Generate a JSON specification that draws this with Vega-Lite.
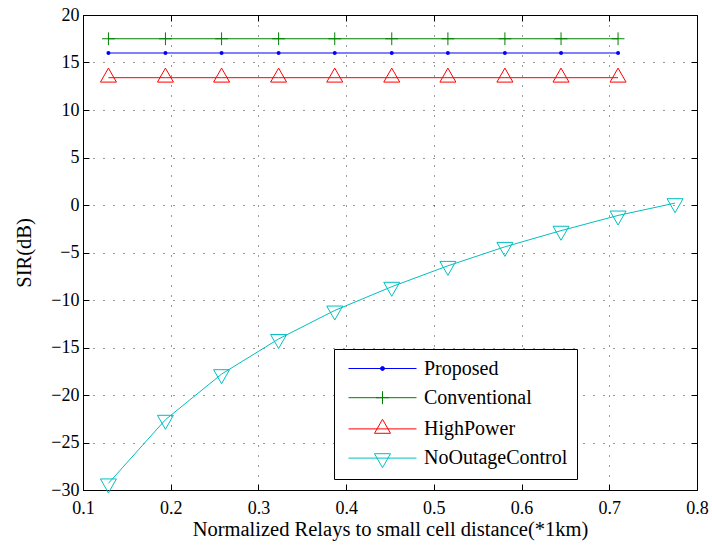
{
  "$schema": "https://vega.github.io/schema/vega-lite/v6.json",
  "width": 614,
  "height": 475,
  "autosize": "none",
  "padding": {"left": 83, "top": 15, "right": 15, "bottom": 55},
  "background": "white",
  "config": {
    "font": "Liberation Serif",
    "view": {"stroke": "black", "strokeWidth": 1},
    "axis": {
      "labelFont": "Liberation Serif",
      "titleFont": "Liberation Serif",
      "labelFontSize": 18,
      "titleFontSize": 20.5,
      "titleFontWeight": "normal",
      "labelColor": "black",
      "titleColor": "black",
      "domain": false,
      "tickColor": "black",
      "tickSize": -6,
      "tickWidth": 1,
      "gridColor": "black",
      "gridOpacity": 0.8,
      "gridDash": [1, 9],
      "gridWidth": 1
    },
    "legend": {"labelFont": "Liberation Serif"}
  },
  "data": {
    "values": [
      {"x": 0.129, "y": 16.0, "series": "Proposed"},
      {"x": 0.194, "y": 16.0, "series": "Proposed"},
      {"x": 0.258, "y": 16.0, "series": "Proposed"},
      {"x": 0.323, "y": 16.0, "series": "Proposed"},
      {"x": 0.387, "y": 16.0, "series": "Proposed"},
      {"x": 0.452, "y": 16.0, "series": "Proposed"},
      {"x": 0.516, "y": 16.0, "series": "Proposed"},
      {"x": 0.581, "y": 16.0, "series": "Proposed"},
      {"x": 0.645, "y": 16.0, "series": "Proposed"},
      {"x": 0.710, "y": 16.0, "series": "Proposed"},
      {"x": 0.129, "y": 17.5, "series": "Conventional"},
      {"x": 0.194, "y": 17.5, "series": "Conventional"},
      {"x": 0.258, "y": 17.5, "series": "Conventional"},
      {"x": 0.323, "y": 17.5, "series": "Conventional"},
      {"x": 0.387, "y": 17.5, "series": "Conventional"},
      {"x": 0.452, "y": 17.5, "series": "Conventional"},
      {"x": 0.516, "y": 17.5, "series": "Conventional"},
      {"x": 0.581, "y": 17.5, "series": "Conventional"},
      {"x": 0.645, "y": 17.5, "series": "Conventional"},
      {"x": 0.710, "y": 17.5, "series": "Conventional"},
      {"x": 0.129, "y": 13.4, "series": "HighPower"},
      {"x": 0.194, "y": 13.4, "series": "HighPower"},
      {"x": 0.258, "y": 13.4, "series": "HighPower"},
      {"x": 0.323, "y": 13.4, "series": "HighPower"},
      {"x": 0.387, "y": 13.4, "series": "HighPower"},
      {"x": 0.452, "y": 13.4, "series": "HighPower"},
      {"x": 0.516, "y": 13.4, "series": "HighPower"},
      {"x": 0.581, "y": 13.4, "series": "HighPower"},
      {"x": 0.645, "y": 13.4, "series": "HighPower"},
      {"x": 0.710, "y": 13.4, "series": "HighPower"},
      {"x": 0.129, "y": -29.3, "series": "NoOutageControl"},
      {"x": 0.194, "y": -22.6, "series": "NoOutageControl"},
      {"x": 0.258, "y": -17.8, "series": "NoOutageControl"},
      {"x": 0.323, "y": -14.1, "series": "NoOutageControl"},
      {"x": 0.387, "y": -11.1, "series": "NoOutageControl"},
      {"x": 0.452, "y": -8.6, "series": "NoOutageControl"},
      {"x": 0.516, "y": -6.4, "series": "NoOutageControl"},
      {"x": 0.581, "y": -4.4, "series": "NoOutageControl"},
      {"x": 0.645, "y": -2.7, "series": "NoOutageControl"},
      {"x": 0.710, "y": -1.1, "series": "NoOutageControl"},
      {"x": 0.775, "y": 0.2, "series": "NoOutageControl"}
    ]
  },
  "layer": [
    {
      "mark": {"type": "line", "strokeWidth": 1, "clip": true},
      "encoding": {
        "x": {
          "field": "x", "type": "quantitative",
          "scale": {"domain": [0.1, 0.8], "nice": false, "zero": false},
          "axis": {"title": "Normalized Relays to small cell distance(*1km)", "values": [0.1, 0.2, 0.3, 0.4, 0.5, 0.6, 0.7, 0.8], "format": ".1f", "labelPadding": 15, "titlePadding": 2, "labelFlush": false}
        },
        "y": {
          "field": "y", "type": "quantitative",
          "scale": {"domain": [-30, 20], "nice": false, "zero": false},
          "axis": {"title": "SIR(dB)", "values": [-30, -25, -20, -15, -10, -5, 0, 5, 10, 15, 20], "format": "d", "labelPadding": 10, "titlePadding": 16, "labelFlush": false}
        },
        "color": {
          "field": "series", "type": "nominal",
          "scale": {"domain": ["Proposed", "Conventional", "HighPower", "NoOutageControl"], "range": ["#0000ff", "#008000", "#ff0000", "#00bfbf"]},
          "legend": {
            "title": null,
            "orient": "none",
            "legendX": 251,
            "legendY": 334,
            "direction": "vertical",
            "padding": 9,
            "rowPadding": 8.2,
            "symbolSize": 400,
            "symbolOffset": 29,
            "labelOffset": 31,
            "labelFont": "Liberation Serif",
            "labelFontSize": 20,
            "labelColor": "black",
            "labelLimit": 300,
            "strokeColor": "black",
            "fillColor": "white",
            "encode": {
              "symbols": {
                "update": {
                  "shape": {"signal": "datum.value === 'Proposed' ? 'M-3.4,0L3.4,0M-0.2,0A0.2,0.2 0 1,0 0.2,0A0.2,0.2 0 1,0 -0.2,0' : datum.value === 'Conventional' ? 'M-3.4,0L3.4,0M-0.65,0L0.65,0M0,-0.65L0,0.65' : datum.value === 'HighPower' ? 'M-3.4,0L3.4,0M0,-0.96L0.8,0.44L-0.8,0.44Z' : 'M-3.4,0L3.4,0M0,0.96L0.8,-0.44L-0.8,-0.44Z'"},
                  "fill": {"signal": "datum.value === 'Proposed' ? '#0000ff' : 'transparent'"},
                  "stroke": {"signal": "datum.value === 'Proposed' ? '#0000ff' : datum.value === 'Conventional' ? '#008000' : datum.value === 'HighPower' ? '#ff0000' : '#00bfbf'"},
                  "strokeWidth": {"value": 1},
                  "opacity": {"value": 1},
                  "size": {"value": 400}
                }
              }
            }
          }
        },
        "detail": {"field": "series"}
      }
    },
    {
      "transform": [{"filter": {"field": "series", "equal": "Proposed"}}],
      "mark": {"type": "point", "shape": "circle", "filled": true, "color": "#0000ff", "size": 16, "opacity": 1},
      "encoding": {
        "x": {"field": "x", "type": "quantitative", "axis": null},
        "y": {"field": "y", "type": "quantitative", "axis": null}
      }
    },
    {
      "transform": [{"filter": {"field": "series", "equal": "Conventional"}}],
      "mark": {"type": "point", "shape": "M-0.8,0H0.8M0,-0.8V0.8", "filled": false, "color": "#008000", "size": 256, "strokeWidth": 1, "opacity": 1},
      "encoding": {
        "x": {"field": "x", "type": "quantitative", "axis": null},
        "y": {"field": "y", "type": "quantitative", "axis": null}
      }
    },
    {
      "transform": [{"filter": {"field": "series", "equal": "HighPower"}}],
      "mark": {"type": "point", "shape": "M0,-1.2L1,0.55L-1,0.55Z", "filled": false, "color": "#ff0000", "size": 256, "strokeWidth": 1, "opacity": 1},
      "encoding": {
        "x": {"field": "x", "type": "quantitative", "axis": null},
        "y": {"field": "y", "type": "quantitative", "axis": null}
      }
    },
    {
      "transform": [{"filter": {"field": "series", "equal": "NoOutageControl"}}],
      "mark": {"type": "point", "shape": "M0,1.2L1,-0.55L-1,-0.55Z", "filled": false, "color": "#00bfbf", "size": 256, "strokeWidth": 1, "opacity": 1},
      "encoding": {
        "x": {"field": "x", "type": "quantitative", "axis": null},
        "y": {"field": "y", "type": "quantitative", "axis": null}
      }
    },
    {
      "mark": {"type": "point", "opacity": 0},
      "encoding": {
        "x": {"field": "x", "type": "quantitative", "axis": {"orient": "top", "title": null, "labels": false, "grid": false, "values": [0.1, 0.2, 0.3, 0.4, 0.5, 0.6, 0.7, 0.8]}},
        "y": {"field": "y", "type": "quantitative", "axis": {"orient": "right", "title": null, "labels": false, "grid": false, "values": [-30, -25, -20, -15, -10, -5, 0, 5, 10, 15, 20]}}
      }
    }
  ],
  "resolve": {"axis": {"x": "independent", "y": "independent"}}
}
